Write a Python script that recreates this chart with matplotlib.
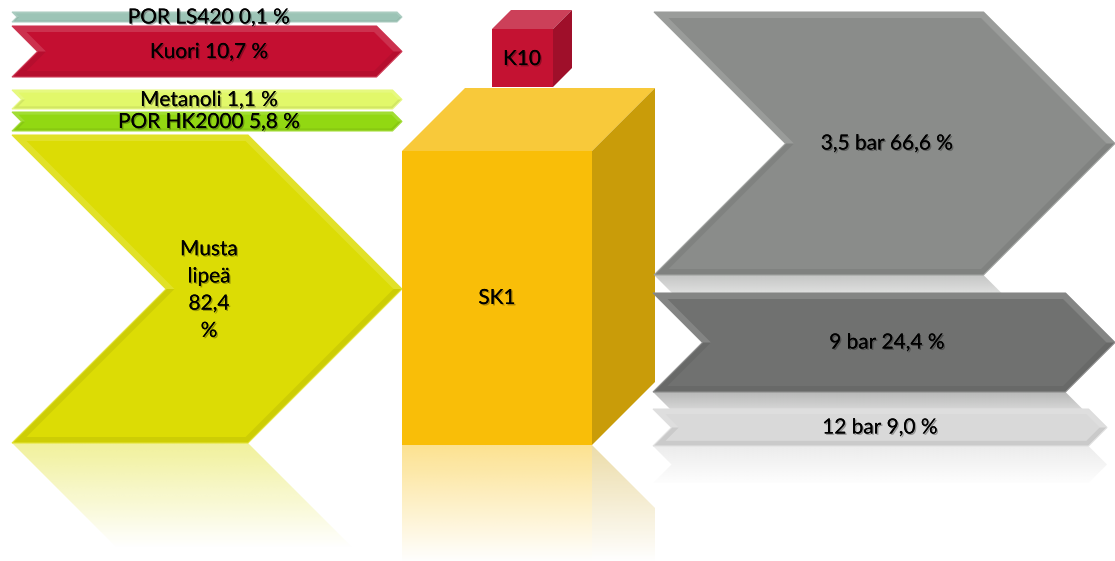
import numpy as np
import matplotlib
matplotlib.use("Agg")
import matplotlib.pyplot as plt
from matplotlib.patches import Polygon
import matplotlib.patheffects as pe
from matplotlib.colors import to_rgb

# --- data ---
in_names = ["POR LS420", "Kuori", "Metanoli", "POR HK2000", "Musta\nlipeä"]
in_pct = [0.1, 10.7, 1.1, 5.8, 82.4]
out_names = ["3,5 bar", "9 bar", "12 bar"]
out_pct = [66.6, 24.4, 9.0]
unit_names = ["SK1", "K10"]

# --- layout (pixel space) ---
in_top = [12, 26, 90, 112, 135]
in_bot = [22, 77, 109, 131, 443]
in_x = (12, 402)
in_colors = ["#9cc4b6", "#c40f31", "#e2f86a", "#92d812", "#dcdc05"]
out_top = [12, 293, 409]
out_bot = [275, 392, 446]
out_x = [(654, 1115), (653, 1115), (653, 1107)]
out_colors = ["#8a8c8a", "#707170", "#d9d9d9"]

FONT = ["Lato", "DejaVu Sans"]


def blend(c, other, t):
    c = np.array(to_rgb(c)); o = np.array(to_rgb(other))
    return tuple(c * (1 - t) + o * t)


def chevron_pts(x0, x1, y0, y1):
    hh = (y1 - y0) / 2
    ym = y0 + hh
    return [(x0, y0), (x1 - hh, y0), (x1, ym), (x1 - hh, y1), (x0, y1), (x0 + hh, ym)]


def fade(ax, pts, color, y0, length, a0=0.45, zorder=1):
    poly = Polygon(pts, closed=True, facecolor="none", edgecolor="none")
    ax.add_patch(poly)
    xs = [p[0] for p in pts]
    n = 200
    img = np.zeros((n, 2, 4))
    img[..., :3] = to_rgb(color)
    img[..., 3] = np.linspace(a0, 0, n)[:, None]
    im = ax.imshow(img, extent=[min(xs), max(xs), y0 + length, y0], origin="upper",
                   aspect="auto", interpolation="bilinear", zorder=zorder)
    im.set_clip_path(poly)


def draw_chevron(ax, x0, x1, y0, y1, color, zorder=2):
    h = y1 - y0
    hh = h / 2
    ym = y0 + hh
    d = min(6.0, 0.14 * h)
    ax.add_patch(Polygon(chevron_pts(x0, x1, y0, y1), closed=True,
                         facecolor=blend(color, "black", 0.07), edgecolor=blend(color, "white", 0.2),
                         lw=0.8, zorder=zorder))
    top = [(x0, y0), (x1 - hh, y0), (x1, ym), (x0 + hh, ym)]
    ax.add_patch(Polygon(top, closed=True, facecolor=blend(color, "white", 0.14),
                         edgecolor="none", zorder=zorder))
    s = d * np.sqrt(2)
    inner = [(x0 + s + d, y0 + d), (x1 - hh - s + d, y0 + d), (x1 - s, ym),
             (x1 - hh - s + d, y1 - d), (x0 + s + d, y1 - d), (x0 + s + hh, ym)]
    ax.add_patch(Polygon(inner, closed=True, facecolor=color, edgecolor="none", zorder=zorder))


def draw_box(ax, x0, x1, y0, y1, dep, front, top, side, zorder=3):
    ax.add_patch(Polygon([(x0, y0), (x1, y0), (x1, y1), (x0, y1)], facecolor=front,
                         edgecolor="none", zorder=zorder))
    ax.add_patch(Polygon([(x0, y0), (x0 + dep, y0 - dep), (x1 + dep, y0 - dep), (x1, y0)],
                         facecolor=top, edgecolor="none", zorder=zorder))
    ax.add_patch(Polygon([(x1, y0), (x1 + dep, y0 - dep), (x1 + dep, y1 - dep), (x1, y1)],
                         facecolor=side, edgecolor="none", zorder=zorder))


def label(ax, x, y, s, size=15, ls=1.2):
    ax.text(x, y, s, ha="center", va="center", fontsize=size, family=FONT, color="black",
            linespacing=ls, zorder=10,
            path_effects=[pe.withSimplePatchShadow(offset=(1, -1), alpha=0.3), pe.Normal()])


def pct_text(v):
    return f"{v:.1f}".replace(".", ",")


fig = plt.figure(figsize=(11.15, 5.61), dpi=100)
ax = fig.add_axes([0, 0, 1, 1])

# inputs
for name, p, t, b, c in zip(in_names, in_pct, in_top, in_bot, in_colors):
    if b - t > 100:
        pts = chevron_pts(in_x[0], in_x[1], t, b)
        mirror = [(px, 2 * b - py) for px, py in pts]
        fade(ax, mirror, c, b, 105, a0=0.4)
    draw_chevron(ax, in_x[0], in_x[1], t, b, c)
    cx = (in_x[0] + in_x[1]) / 2 + 2
    if "\n" in name:
        label(ax, cx, (t + b) / 2 + 1, f"{name}\n{pct_text(p)}\n%", ls=1.45)
    else:
        label(ax, cx, (t + b) / 2 + 0.5, f"{name} {pct_text(p)} %")

# outputs (reflections first, shapes cover them)
for name, p, t, b, (x0, x1), c in zip(out_names, out_pct, out_top, out_bot, out_x, out_colors):
    pts = chevron_pts(x0, x1, t, b)
    mirror = [(px, 2 * b - py) for px, py in pts]
    fade(ax, mirror, c, b, 40, a0=0.5)
for name, p, t, b, (x0, x1), c in zip(out_names, out_pct, out_top, out_bot, out_x, out_colors):
    draw_chevron(ax, x0, x1, t, b, c, zorder=4)
    label(ax, 887 if x1 > 1110 else 880, (t + b) / 2, f"{name} {pct_text(p)} %")

# SK1 boiler box + reflection
sk = (402, 592, 151, 445, 63)
x0, x1, y0, y1, dep = sk
fade(ax, [(x0, y1), (x1, y1), (x1, 2 * y1 - y0), (x0, 2 * y1 - y0)], "#f9be08", y1, 118, a0=0.45)
fade(ax, [(x1, y1), (x1 + dep, y1 + dep), (x1 + dep, 561), (x1, 561)], "#c99c09", y1, 118, a0=0.35)
draw_box(ax, x0, x1, y0, y1, dep, "#f9be08", "#f8c93a", "#c99c09")
label(ax, (x0 + x1) / 2, 298, unit_names[0])

# K10 small cube
draw_box(ax, 492, 553, 29, 87, 19, "#c41232", "#cc4059", "#9f0f2a")
label(ax, 522, 59, unit_names[1])

ax.set_xlim(0, 1115)
ax.set_ylim(561, 0)
ax.axis("off")
fig.savefig("out.png", dpi=100, facecolor="white")
